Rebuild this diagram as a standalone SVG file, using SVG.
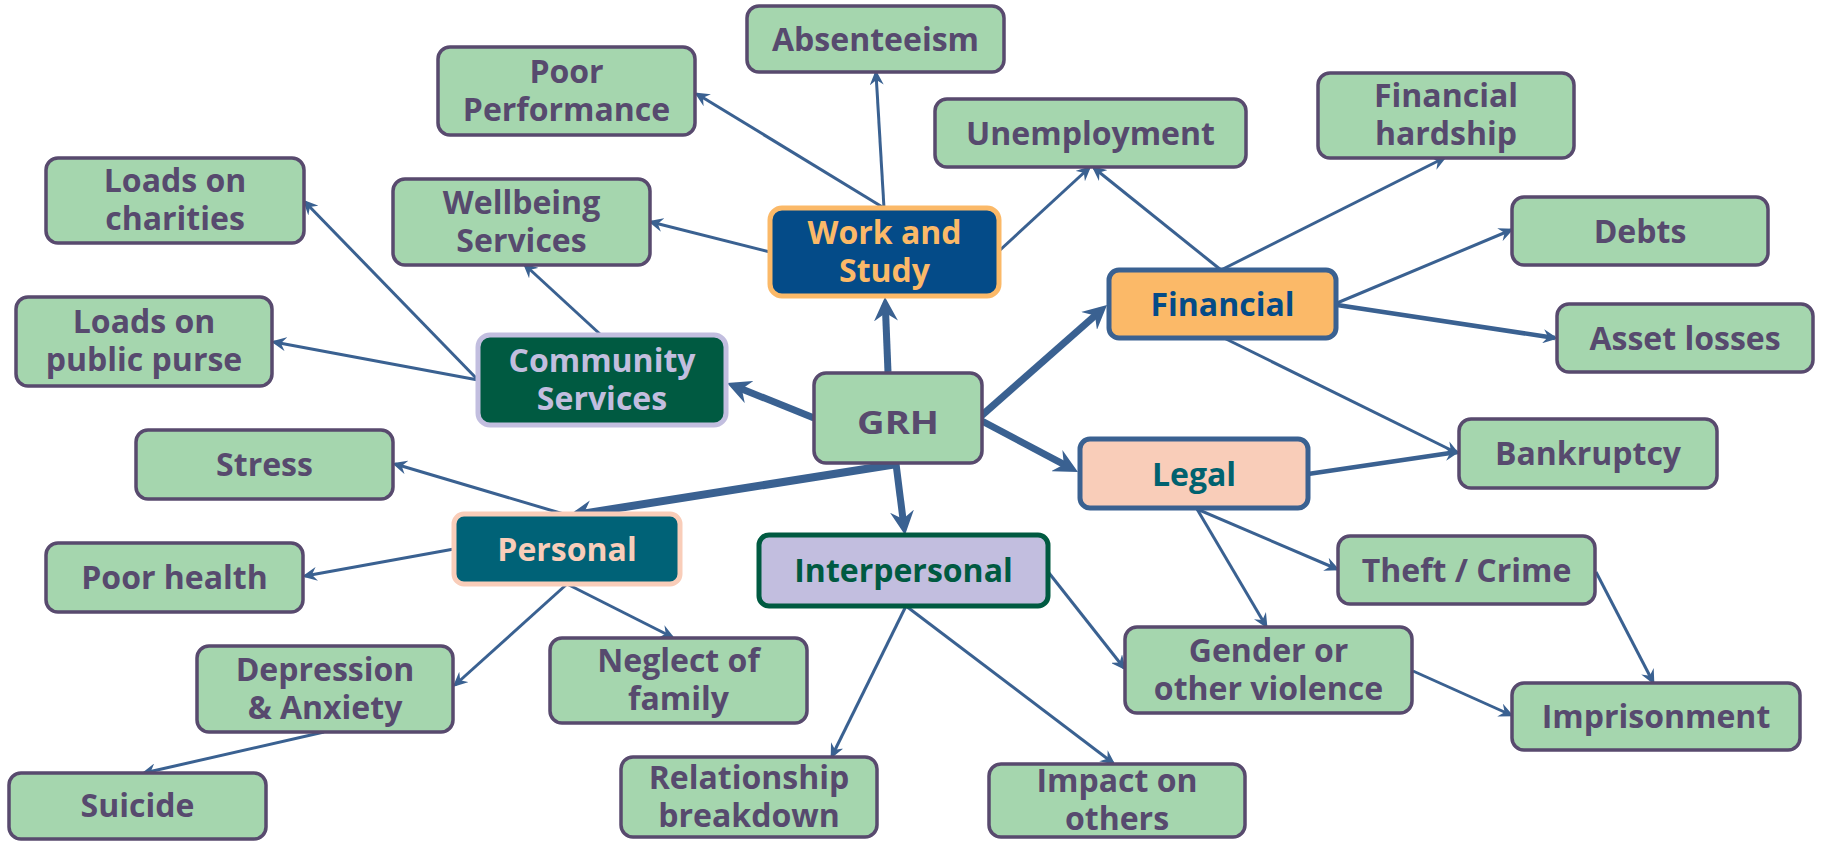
<svg xmlns="http://www.w3.org/2000/svg" width="1823" height="841" viewBox="0 0 1823 841">
<style>
.n rect{stroke-width:3.5}
.leaf rect{fill:#a5d6ae;stroke:#584a6e}
.leaf text{fill:#574a6e}
text{font-family:"Open Sans","Noto Sans","Liberation Sans",sans-serif;font-weight:bold;font-size:32px;text-anchor:middle}
.c line{stroke:#3a6191;stroke-width:3;fill:none;marker-end:url(#ah)}
.c line.m{stroke-width:4.5}
.c line.t{stroke-width:7;marker-end:url(#ahT)}
.cat rect{stroke-width:5}
</style>
<defs>
<marker id="ah" markerUnits="userSpaceOnUse" markerWidth="15" markerHeight="14" viewBox="0 0 15 14" refX="12" refY="7" orient="auto">
<path d="M0,0 L15,7 L0,14 L5,7 Z" fill="#3a6191"/>
</marker>
<marker id="ahT" markerUnits="userSpaceOnUse" markerWidth="24" markerHeight="24" viewBox="0 0 24 24" refX="16" refY="12" orient="auto">
<path d="M0,0 L24,12 L0,24 L8,12 Z" fill="#3a6191"/>
</marker>
</defs>
<rect width="1823" height="841" fill="#ffffff"/>
<g id="connectors" class="c">
<line class="t" x1="888" y1="372" x2="885.3" y2="305"/>
<line class="t" x1="980" y1="417" x2="1101" y2="310.3"/>
<line class="t" x1="980" y1="420" x2="1070.9" y2="468.2"/>
<line class="t" x1="814" y1="418" x2="734.4" y2="386"/>
<line class="t" x1="897" y1="464" x2="575.9" y2="514.8" style="stroke-width:8"/>
<line class="t" x1="896" y1="464" x2="904" y2="527"/>
<line x1="884" y1="208" x2="697" y2="94"/>
<line x1="884" y1="208" x2="876" y2="73"/>
<line x1="770" y1="252" x2="651" y2="222"/>
<line x1="999" y1="251" x2="1089" y2="168"/>
<line x1="1221" y1="270" x2="1094" y2="168"/>
<line x1="1221" y1="270" x2="1444" y2="158"/>
<line x1="1337" y1="303" x2="1511" y2="230"/>
<line class="m" x1="1337" y1="305" x2="1555" y2="338"/>
<line x1="1224" y1="338" x2="1457" y2="453"/>
<line class="m" x1="1308" y1="474" x2="1457" y2="452"/>
<line x1="1197" y1="509" x2="1337" y2="569"/>
<line x1="1197" y1="509" x2="1266" y2="626"/>
<line x1="1596" y1="572" x2="1653" y2="682"/>
<line x1="1413" y1="671" x2="1511" y2="715"/>
<line x1="1049" y1="573" x2="1124" y2="668"/>
<line x1="906" y1="606" x2="1113" y2="763"/>
<line x1="906" y1="606" x2="832" y2="756"/>
<line x1="567" y1="515" x2="395" y2="464"/>
<line x1="454" y1="549" x2="305" y2="576"/>
<line x1="567" y1="584" x2="455" y2="685"/>
<line x1="567" y1="584" x2="672" y2="637"/>
<line x1="324" y1="732" x2="144" y2="773"/>
<line x1="601" y1="335" x2="525" y2="265"/>
<line x1="478" y1="380" x2="305" y2="202"/>
<line x1="478" y1="380" x2="274" y2="342"/>
</g>
<g id="grh" class="n"><rect x="814" y="373" width="168" height="90" rx="12" fill="#a5d6ae" stroke="#584a6e" stroke-width="4.5"/><text x="898" y="433.5" fill="#584a6e" font-size="44" textLength="82" lengthAdjust="spacingAndGlyphs">GRH</text></g>
<g id="work" class="n cat"><rect x="770" y="208" width="229" height="88" rx="12" fill="#044b88" stroke="#fbb968"/><text x="884.5" y="244" fill="#fbb968">Work and</text><text x="884.5" y="282" fill="#fbb968">Study</text></g>
<g id="financial" class="n cat"><rect x="1109" y="270" width="227" height="68" rx="10" fill="#fbb968" stroke="#3a6191"/><text x="1222.5" y="315.5" fill="#044b88">Financial</text></g>
<g id="legal" class="n cat"><rect x="1080" y="439" width="228" height="69" rx="10" fill="#f9cdb9" stroke="#3a6191"/><text x="1194" y="485.5" fill="#00626f">Legal</text></g>
<g id="community" class="n cat"><rect x="478" y="335" width="248" height="90" rx="12" fill="#005a41" stroke="#c2bedf"/><text x="602" y="372" fill="#c2bedf">Community</text><text x="602" y="410" fill="#c2bedf">Services</text></g>
<g id="personal" class="n cat"><rect x="454" y="514" width="226" height="70" rx="10" fill="#006277" stroke="#f9cdb9"/><text x="567" y="560.5" fill="#f9cdb9">Personal</text></g>
<g id="interpersonal" class="n cat"><rect x="759" y="535" width="289" height="71" rx="10" fill="#c2bedf" stroke="#005a41"/><text x="903.5" y="582" fill="#005a41">Interpersonal</text></g>
<g id="absenteeism" class="n leaf"><rect x="747" y="6" width="257" height="66" rx="12"/><text x="875.5" y="50.5">Absenteeism</text></g>
<g id="poor-performance" class="n leaf"><rect x="438" y="47" width="257" height="88" rx="12"/><text x="566.5" y="83">Poor</text><text x="566.5" y="121">Performance</text></g>
<g id="wellbeing" class="n leaf"><rect x="393" y="179" width="257" height="86" rx="12"/><text x="521.5" y="214">Wellbeing</text><text x="521.5" y="252">Services</text></g>
<g id="charities" class="n leaf"><rect x="46" y="158" width="258" height="85" rx="12"/><text x="175" y="192">Loads on</text><text x="175" y="230">charities</text></g>
<g id="public-purse" class="n leaf"><rect x="16" y="297" width="256" height="89" rx="12"/><text x="144" y="333">Loads on</text><text x="144" y="371">public purse</text></g>
<g id="unemployment" class="n leaf"><rect x="935" y="99" width="311" height="68" rx="12"/><text x="1090.5" y="144.5">Unemployment</text></g>
<g id="hardship" class="n leaf"><rect x="1318" y="73" width="256" height="85" rx="12"/><text x="1446" y="107">Financial</text><text x="1446" y="145">hardship</text></g>
<g id="debts" class="n leaf"><rect x="1512" y="197" width="256" height="68" rx="12"/><text x="1640" y="242.5">Debts</text></g>
<g id="asset-losses" class="n leaf"><rect x="1557" y="304" width="256" height="68" rx="12"/><text x="1685" y="349.5">Asset losses</text></g>
<g id="bankruptcy" class="n leaf"><rect x="1459" y="419" width="258" height="69" rx="12"/><text x="1588" y="465">Bankruptcy</text></g>
<g id="theft" class="n leaf"><rect x="1338" y="536" width="257" height="68" rx="12"/><text x="1466.5" y="581.5">Theft / Crime</text></g>
<g id="gender" class="n leaf"><rect x="1125" y="627" width="287" height="86" rx="12"/><text x="1268.5" y="662">Gender or</text><text x="1268.5" y="700">other violence</text></g>
<g id="imprisonment" class="n leaf"><rect x="1512" y="683" width="288" height="67" rx="12"/><text x="1656" y="728">Imprisonment</text></g>
<g id="impact" class="n leaf"><rect x="989" y="764" width="256" height="73" rx="12"/><text x="1117" y="792">Impact on</text><text x="1117" y="830">others</text></g>
<g id="relationship" class="n leaf"><rect x="621" y="757" width="256" height="80" rx="12"/><text x="749" y="789">Relationship</text><text x="749" y="827">breakdown</text></g>
<g id="stress" class="n leaf"><rect x="136" y="430" width="257" height="69" rx="12"/><text x="264.5" y="476">Stress</text></g>
<g id="poor-health" class="n leaf"><rect x="46" y="543" width="257" height="69" rx="12"/><text x="174.5" y="589">Poor health</text></g>
<g id="depression" class="n leaf"><rect x="197" y="646" width="256" height="86" rx="12"/><text x="325" y="681">Depression</text><text x="325" y="719">&amp; Anxiety</text></g>
<g id="neglect" class="n leaf"><rect x="550" y="638" width="257" height="85" rx="12"/><text x="678.5" y="672">Neglect of</text><text x="678.5" y="710">family</text></g>
<g id="suicide" class="n leaf"><rect x="9" y="773" width="257" height="66" rx="12"/><text x="137.5" y="817">Suicide</text></g>
</svg>
